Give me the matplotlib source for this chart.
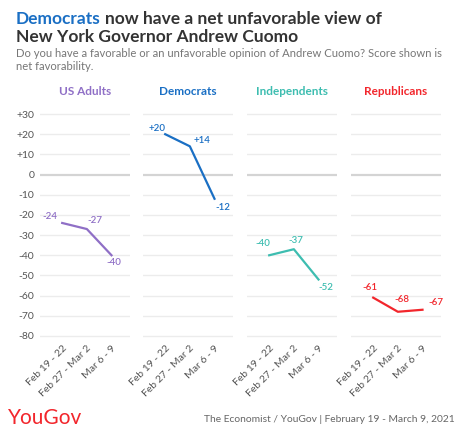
import matplotlib.pyplot as plt

plt.rcParams['font.family'] = ['Lato', 'DejaVu Sans']

groups = ["US Adults", "Democrats", "Independents", "Republicans"]
colors = ["#8f6fc6", "#1a6fc4", "#3dbdb0", "#f2262c"]
periods = ["Feb 19 - 22", "Feb 27 - Mar 2", "Mar 6 - 9"]
values = [
    [-24, -27, -40],
    [20, 14, -12],
    [-40, -37, -52],
    [-61, -68, -67],
]
yticks = [30, 20, 10, 0, -10, -20, -30, -40, -50, -60, -70, -80]

# label offsets in pixels for each point
offsets = [
    [(-12, 6), (8, 9), (2, -7)],
    [(-8, 6), (12, 6), (8, -9)],
    [(-6, 12), (2, 9), (7, -8)],
    [(-3, 10), (4, 12), (13, 7)],
]

W, H = 460, 440
fig = plt.figure(figsize=(4.6, 4.4), dpi=100)

lefts = [40, 143, 247, 351]
for i, g in enumerate(groups):
    ax = fig.add_axes([lefts[i] / W, (H - 338) / H, 90 / W, 226 / H])
    ax.set_xlim(-0.9, 2.75)
    ax.set_ylim(-81, 31)
    for y in yticks:
        if y == 0:
            ax.axhline(y, color="#d4d4d4", lw=1.6, zorder=1)
        else:
            ax.axhline(y, color="#ececec", lw=1.0, zorder=1)
    ax.plot(range(3), values[i], color=colors[i], lw=1.6, zorder=3)
    for j, v in enumerate(values[i]):
        txt = "+%d" % v if v > 0 else "%d" % v
        ax.annotate(txt, (j, v), xytext=offsets[i][j], textcoords="offset pixels",
                    ha="center", va="center", fontsize=7, color=colors[i],
                    fontweight="semibold")
    for s in ax.spines.values():
        s.set_visible(False)
    ax.set_xticks(range(3))
    ax.set_xticklabels(periods, rotation=45, ha="right", rotation_mode="anchor",
                       fontsize=7.5, color="#555555")
    ax.tick_params(axis="both", length=0, pad=4)
    ax.set_yticks(yticks)
    if i == 0:
        ax.set_yticklabels(["+%d" % y if y > 0 else "%d" % y for y in yticks],
                           fontsize=7.5, color="#555555")
    else:
        ax.set_yticklabels([])
    ax.set_title(g, color=colors[i], fontsize=8.5, fontweight="bold", pad=12)

# title
t1 = fig.text(16 / W, 1 - 19 / H, "Democrats", color="#1a6fc4", fontsize=12.5,
              fontweight="bold", va="center")
fig.canvas.draw()
bb = t1.get_window_extent()
fig.text(bb.x1 / W + 0.009, 1 - 19 / H, "now have a net unfavorable view of",
         color="#333333", fontsize=12.5, fontweight="bold", va="center")
fig.text(16 / W, 1 - 37 / H, "New York Governor Andrew Cuomo", color="#333333",
         fontsize=12.5, fontweight="bold", va="center")
fig.text(16 / W, 1 - 60 / H,
         "Do you have a favorable or an unfavorable opinion of Andrew Cuomo? Score shown is\nnet favorability.",
         color="#777777", fontsize=8.1, va="center", linespacing=1.25)

# footer
fig.text(8 / W, 1 - 418 / H, "YouGov", color="#f2262c", fontsize=15, va="center")
fig.text(455 / W, 1 - 419 / H, "The Economist / YouGov | February 19 - March 9, 2021",
         color="#666666", fontsize=7.4, va="center", ha="right")

fig.savefig("out.png", dpi=100)
